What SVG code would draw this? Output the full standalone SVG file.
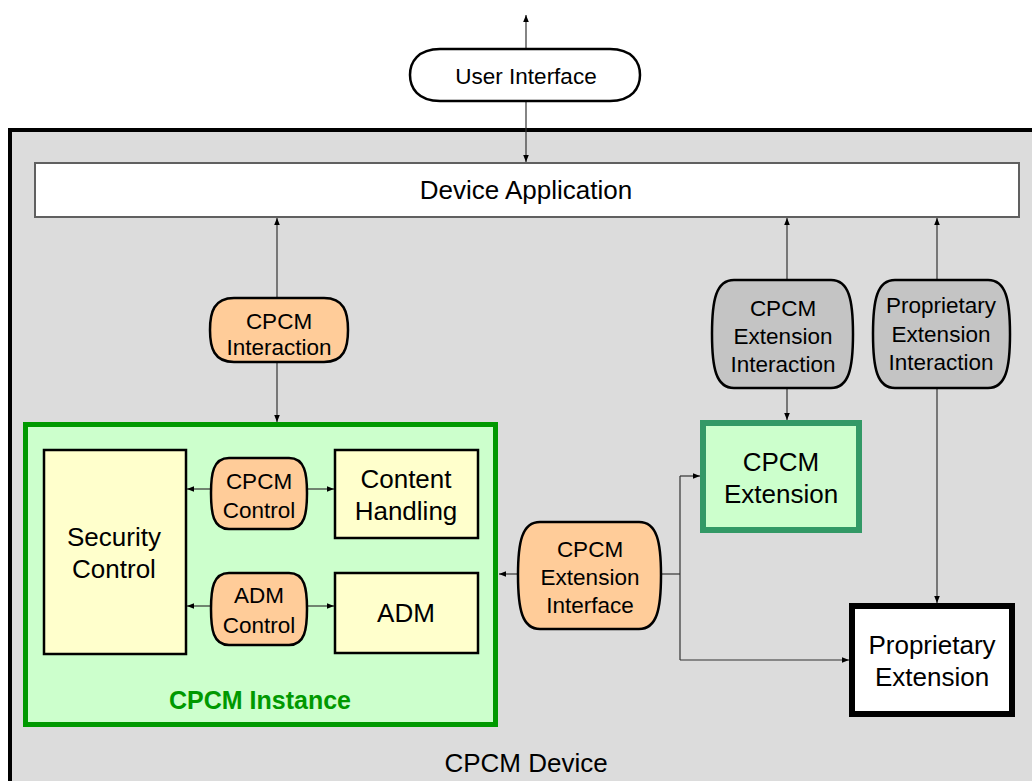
<svg xmlns="http://www.w3.org/2000/svg" width="1032" height="781" viewBox="0 0 1032 781">
<defs>
<marker id="ah" viewBox="0 0 10 10" refX="10" refY="5" markerWidth="7" markerHeight="7" markerUnits="userSpaceOnUse" orient="auto-start-reverse">
<path d="M0,1 L10,5 L0,9 z" fill="#000"/>
</marker>
<style>
text{font-family:"Liberation Sans",Arial,sans-serif;fill:#000;text-anchor:middle}
.t{font-size:26px}
.s{font-size:22.5px}
.c{stroke:#333;stroke-width:1.2;fill:none}
.pill-o{fill:#ffcc99;stroke:#000;stroke-width:2.5}
.pill-g{fill:#c4c4c4;stroke:#000;stroke-width:2.5}
.box-y{fill:#ffffcc;stroke:#000;stroke-width:2.5}
</style>
</defs>
<rect width="1032" height="781" fill="#fff"/>
<g id="cpcm-device">
<rect x="10" y="130" width="1030" height="670" fill="#dcdcdc" stroke="#000" stroke-width="4"/>
<text class="t" x="526" y="772">CPCM Device</text>
</g>
<g id="device-application">
<rect x="35" y="163" width="984" height="54" fill="#fff" stroke="#606060" stroke-width="2"/>
<text class="t" x="526" y="199">Device Application</text>
</g>
<g id="cpcm-instance">
<rect x="25.5" y="424.5" width="470" height="300" fill="#ccffcc" stroke="#009900" stroke-width="5"/>
<text x="260" y="709" style="font-size:25px;font-weight:bold;fill:#009900">CPCM Instance</text>
</g>
<g id="connectors">
<line class="c" x1="526" y1="15" x2="526" y2="162" marker-start="url(#ah)" marker-end="url(#ah)"/>
<line class="c" x1="277" y1="300" x2="277" y2="218" marker-end="url(#ah)"/>
<line class="c" x1="277" y1="362" x2="277" y2="422" marker-end="url(#ah)"/>
<line class="c" x1="787" y1="282" x2="787" y2="218" marker-end="url(#ah)"/>
<line class="c" x1="787" y1="388" x2="787" y2="420" marker-end="url(#ah)"/>
<line class="c" x1="937" y1="282" x2="937" y2="218" marker-end="url(#ah)"/>
<line class="c" x1="937" y1="388" x2="937" y2="603" marker-end="url(#ah)"/>
<line class="c" x1="212" y1="489" x2="187" y2="489" marker-end="url(#ah)"/>
<line class="c" x1="306" y1="489" x2="334" y2="489" marker-end="url(#ah)"/>
<line class="c" x1="212" y1="606" x2="187" y2="606" marker-end="url(#ah)"/>
<line class="c" x1="306" y1="606" x2="334" y2="606" marker-end="url(#ah)"/>
<line class="c" x1="520" y1="574" x2="499" y2="574" marker-end="url(#ah)"/>
<polyline class="c" points="660,574 680,574"/>
<polyline class="c" points="680,476 680,660"/>
<line class="c" x1="680" y1="476" x2="700" y2="476" marker-end="url(#ah)"/>
<line class="c" x1="680" y1="660" x2="849" y2="660" marker-end="url(#ah)"/>
</g>
<g id="user-interface">
<path d="M440,49 H610 C632,49 640,62 640,75 C640,88 632,101 610,101 H440 C418,101 410,88 410,75 C410,62 418,49 440,49 Z" fill="#fff" stroke="#000" stroke-width="2.5"/>
<text class="s" x="526" y="84">User Interface</text>
</g>
<g id="cpcm-interaction">
<path d="M234,298 H324 C344,298 348,312 348,330 C348,348 344,362 324,362 H234 C214,362 210,348 210,330 C210,312 214,298 234,298 Z" class="pill-o"/>
<text class="s" x="279" y="329">CPCM</text>
<text class="s" x="279" y="355">Interaction</text>
</g>
<g id="cpcm-extension-interaction">
<path d="M734,280 H831 C849,280 853,300 853,334 C853,368 849,388 831,388 H734 C716,388 712,368 712,334 C712,300 716,280 734,280 Z" class="pill-g"/>
<text class="s" x="783" y="316">CPCM</text>
<text class="s" x="783" y="344">Extension</text>
<text class="s" x="783" y="372">Interaction</text>
</g>
<g id="proprietary-extension-interaction">
<path d="M895,280 H988 C1006,280 1010,300 1010,334 C1010,368 1006,388 988,388 H895 C877,388 873,368 873,334 C873,300 877,280 895,280 Z" class="pill-g"/>
<text class="s" x="941" y="313">Proprietary</text>
<text class="s" x="941" y="342">Extension</text>
<text class="s" x="941" y="370">Interaction</text>
</g>
<g id="security-control">
<rect x="44" y="450" width="142" height="204" class="box-y"/>
<text class="t" x="114" y="546">Security</text>
<text class="t" x="114" y="578">Control</text>
</g>
<g id="cpcm-control">
<path d="M229,458 H289 C305,458 307,474 307,493 C307,513 305,529 289,529 H229 C213,529 211,513 211,493 C211,474 213,458 229,458 Z" class="pill-o"/>
<text class="s" x="259" y="489">CPCM</text>
<text class="s" x="259" y="518">Control</text>
</g>
<g id="content-handling">
<rect x="335" y="450" width="143" height="88" class="box-y"/>
<text class="t" x="406" y="488">Content</text>
<text class="t" x="406" y="520">Handling</text>
</g>
<g id="adm-control">
<path d="M229,573 H289 C305,573 307,589 307,609 C307,629 305,645 289,645 H229 C213,645 211,629 211,609 C211,589 213,573 229,573 Z" class="pill-o"/>
<text class="s" x="259" y="603">ADM</text>
<text class="s" x="259" y="633">Control</text>
</g>
<g id="adm">
<rect x="335" y="573" width="143" height="80" class="box-y"/>
<text class="t" x="406" y="622">ADM</text>
</g>
<g id="cpcm-extension-interface">
<path d="M540,522 H639 C657,522 661,542 661,575 C661,609 657,629 639,629 H540 C522,629 518,609 518,575 C518,542 522,522 540,522 Z" class="pill-o"/>
<text class="s" x="590" y="557">CPCM</text>
<text class="s" x="590" y="585">Extension</text>
<text class="s" x="590" y="613">Interface</text>
</g>
<g id="cpcm-extension">
<rect x="703" y="423" width="156" height="107" fill="#ccffcc" stroke="#339966" stroke-width="6"/>
<text class="t" x="781" y="471">CPCM</text>
<text class="t" x="781" y="503">Extension</text>
</g>
<g id="proprietary-extension">
<rect x="852" y="606" width="160" height="108" fill="#fff" stroke="#000" stroke-width="6"/>
<text class="t" x="932" y="654">Proprietary</text>
<text class="t" x="932" y="686">Extension</text>
</g>
</svg>
